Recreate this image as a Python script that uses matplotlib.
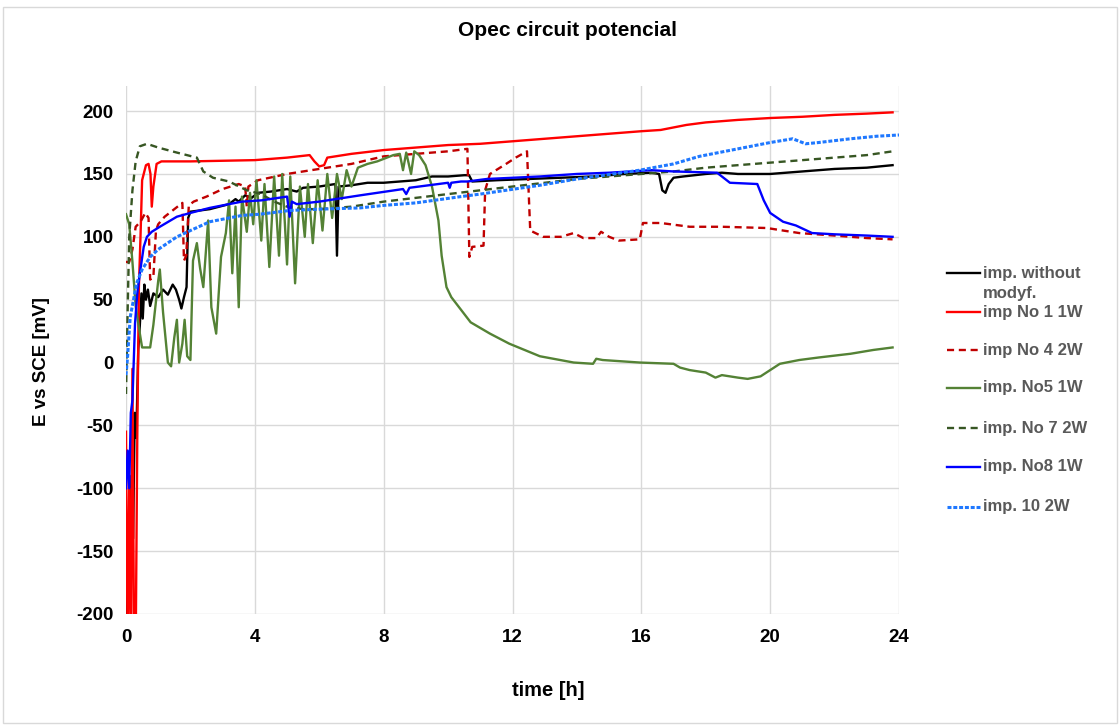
import matplotlib
matplotlib.use("Agg")
import matplotlib.pyplot as plt
from matplotlib.lines import Line2D
from matplotlib.patches import Rectangle

plt.rcParams["axes.unicode_minus"] = False

# ---------------- data ----------------
t_black = [0.00, 0.03, 0.08, 0.12, 0.17, 0.22, 0.27, 0.32, 0.38, 0.43, 0.48, 0.52, 0.57, 0.62, 0.68, 0.75,
           0.85, 1.0, 1.15, 1.3, 1.45, 1.55, 1.65, 1.72, 1.8, 1.88, 1.93, 2.0, 2.3, 2.6, 2.9, 3.2, 3.4, 3.5,
           3.7, 3.9, 4.1, 4.5, 5.0, 5.3, 5.5, 6.0, 6.5, 6.55, 6.6, 7.0, 7.5, 8.0, 8.5, 9.0, 9.5, 10.0, 10.5,
           10.65, 10.75, 11.5, 12.5, 13.5, 14.5, 15.5, 16.3, 16.55, 16.65, 16.75, 16.85, 17.0, 17.3, 18.0,
           18.5, 19.0, 20.0, 21.0, 22.0, 23.0, 23.8]
v_black = [-160, -230, -130, -190, -90, -140, -40, -60, 10, 30, 55, 35, 62, 50, 58, 45,
           55, 52, 58, 54, 62, 58, 50, 43, 52, 60, 115, 120, 121, 122, 124, 126, 130, 128,
           133, 131, 135, 136, 138, 136, 139, 140, 142, 85, 140, 141, 143, 143, 144, 145, 148, 148, 149,
           149, 144, 145, 146, 147, 148, 150, 151, 150, 137, 135, 142, 147, 148, 150,
           151, 150, 150, 152, 154, 155, 157]

t_no1 = [0.0, 0.05, 0.1, 0.15, 0.2, 0.25, 0.3, 0.35, 0.4, 0.45, 0.5, 0.55, 0.62, 0.7, 0.76, 0.8, 0.85,
         0.95, 1.1, 2, 3, 4, 5, 5.7, 5.85, 6.0, 6.15, 6.25, 7, 8, 9, 10, 11, 12, 13, 14, 15, 16, 16.6,
         17.4, 18, 19, 20, 21, 22, 23, 23.8]
v_no1 = [-55, -230, -100, -230, -5, -230, -230, -60, 60, 100, 145, 150, 157, 158, 150, 124, 140,
         158, 160, 160, 160.5, 161, 163, 165, 160, 156, 157, 163, 166, 169, 171, 173, 174, 176, 178, 180,
         182, 184, 185, 189, 191, 193, 194.5, 195.5, 197, 198, 199]

t_no4 = [0, 0.1, 0.2, 0.3, 0.45, 0.6, 0.7, 0.75, 0.85, 0.93, 1.0, 1.2, 1.5, 1.75, 1.8, 1.87, 1.95, 2.1,
         2.5, 3.0, 3.5, 3.7, 3.75, 3.8, 4.1, 5, 6, 7, 8, 9, 10, 10.6, 10.66, 10.75, 11.1, 11.15, 11.3,
         11.8, 12.1, 12.45, 12.55, 12.95, 13.5, 13.9, 14.2, 14.6, 14.75, 15.0, 15.3, 15.95, 16.05, 16.6,
         17.5, 18.5, 19.9, 20.9, 22, 23.0, 23.8]
v_no4 = [80, 80, 90, 108, 112, 119, 115, 66, 68, 105, 110, 116, 122, 127, 81, 85, 125, 128,
         132, 138, 142, 140, 124, 140, 145, 150, 154, 158, 164, 166, 168, 170, 84, 92, 93, 137, 150,
         158, 163, 168, 105, 100, 100, 103, 99, 99, 104, 100, 97, 98, 111, 111,
         108, 108, 107, 103, 101, 99, 98]

t_no5 = [0, 0.1, 0.2, 0.3, 0.43, 0.5, 0.75, 0.85, 1.0, 1.05, 1.15, 1.3, 1.4, 1.5, 1.58, 1.65, 1.75,
         1.82, 1.9, 2.0, 2.08, 2.2, 2.3, 2.4, 2.55, 2.65, 2.8, 2.95, 3.1, 3.2, 3.3, 3.4, 3.5, 3.6, 3.75,
         3.85, 3.95, 4.05, 4.2, 4.3, 4.45, 4.6, 4.75, 4.85, 5.0, 5.1, 5.25, 5.4, 5.55, 5.65, 5.8, 5.95,
         6.1, 6.25, 6.4, 6.55, 6.7, 6.85, 7.0, 7.2, 7.5, 7.8, 8.0, 8.3, 8.5, 8.6, 8.7, 8.85, 8.95, 9.1,
         9.3, 9.5, 9.7, 9.8, 9.95, 10.1, 10.4, 10.7, 11.3, 11.9, 12.85, 13.9, 14.5, 14.6, 14.8, 15.95,
         17.0, 17.2, 17.5, 18.0, 18.3, 18.5, 19.0, 19.3, 19.7, 20.0, 20.3, 20.9, 21.5, 22.5, 23.2, 23.8]
v_no5 = [118, 110, 80, 45, 23, 12, 12, 30, 65, 74, 40, 0, -3, 20, 34, 0, 15,
         34, 5, 2, 81, 95, 75, 60, 113, 44, 23, 84, 103, 129, 71, 124, 44, 132, 104,
         135, 110, 145, 97, 142, 76, 148, 85, 150, 78, 148, 63, 140, 100, 142, 95, 145,
         105, 150, 115, 150, 130, 153, 140, 155, 158, 160, 162, 165, 166, 153, 167, 150, 168, 165,
         157, 140, 113, 85, 60, 52, 42, 32, 23, 15, 5, 0, -1, 3, 2, 0,
         -1, -4, -6, -8, -12, -10, -12, -13, -11, -6, -1, 2, 4, 7, 10, 12]

t_no7 = [0, 0.05, 0.1, 0.2, 0.3, 0.43, 0.65, 1.0, 1.58, 2.2, 2.4, 2.7, 3.2, 3.75, 4.2, 4.6, 5.0, 5.5,
         6.0, 7.0, 8.0, 9.0, 10.0, 11.0, 12.0, 13.0, 14.0, 15.0, 16.0, 17.0, 18.0, 19.0, 20.0, 21.0,
         22.0, 23.0, 23.8]
v_no7 = [-25, 40, 100, 137, 160, 172, 174, 171, 167, 163, 152, 147, 144, 137, 134, 128, 124, 122,
         122, 124, 128, 131, 134, 137, 140, 143, 146, 148, 150, 152, 155, 157, 159, 161,
         163, 165, 168]

t_no8 = [0, 0.05, 0.1, 0.15, 0.2, 0.28, 0.35, 0.43, 0.55, 0.65, 0.8, 1.05, 1.58, 2.0, 2.6, 3.6, 4.2,
         5.0, 5.08, 5.15, 5.3, 6.0, 7.27, 8.6, 8.7, 8.8, 10.0, 10.05, 10.1, 10.4, 10.6, 11.2, 12.85,
         14.0, 15.0, 16.3, 17.0, 18.35, 18.75, 19.6, 19.8, 20.0, 20.4, 20.8, 21.3, 22.0, 23.0, 23.8]
v_no8 = [-100, -70, -100, -40, -30, 31, 55, 71, 92, 100, 104, 108, 116, 119, 123, 128, 129,
         132, 116, 128, 126, 128, 133, 138, 134, 139, 143, 139, 143, 144, 144, 146, 148,
         150, 151, 153, 152, 151, 143, 142, 129, 119, 112, 109, 103, 102, 101, 100]

t_no10 = [0, 0.05, 0.13, 0.33, 0.5, 0.75, 1.0, 1.58, 2.0, 2.6, 3.6, 4.16, 5.1, 6.0, 7.27, 8.0, 9.0,
          10.4, 11.0, 12.85, 14.0, 15.95, 17.0, 17.8, 19.0, 20.0, 20.7, 20.9, 21.1, 21.5, 22.5, 23.3,
          24.0]
v_no10 = [-10, 5, 36, 63, 74, 84, 90, 100, 105, 112, 117, 118, 121, 122, 123, 125, 127,
          132, 134, 141, 146, 153, 158, 164, 170, 175, 178, 176, 174, 175, 178, 180,
          181]

labels = ["imp. without\nmodyf.", "imp No 1 1W", "imp No 4 2W", "imp. No5 1W",
          "imp. No 7 2W", "imp. No8 1W", "imp. 10 2W"]
x_ticks = [0, 4, 8, 12, 16, 20, 24]
y_ticks = [-200, -150, -100, -50, 0, 50, 100, 150, 200]

# ---------------- figure ----------------
fig = plt.figure(figsize=(11.2, 7.26), dpi=100)
fig.patch.set_facecolor("white")
fig.add_artist(Rectangle((0.003, 0.004), 0.994, 0.986, transform=fig.transFigure,
                         fill=False, edgecolor="#d9d9d9", linewidth=1.0))

ax = fig.add_axes([0.1125, 0.1543, 0.6902, 0.7273])

series = [
    (t_black, v_black, "#000000", "-", 1.7),
    (t_no1, v_no1, "#ff0000", "-", 1.7),
    (t_no4, v_no4, "#c00000", (0, (3, 2)), 1.7),
    (t_no5, v_no5, "#548235", "-", 1.7),
    (t_no7, v_no7, "#375623", (0, (3, 2)), 1.7),
    (t_no8, v_no8, "#0000ff", "-", 1.7),
    (t_no10, v_no10, "#1f78ff", (0, (1.3, 0.6)), 2.2),
]
for t, v, c, ls, lw in series:
    ax.plot(t, v, color=c, linestyle=ls, linewidth=lw, solid_joinstyle="round")

ax.set_xlim(0, 24)
ax.set_ylim(-200, 220)
ax.set_xticks(x_ticks)
ax.set_yticks(y_ticks)
ax.grid(True, color="#d9d9d9", linewidth=1.0)
ax.set_axisbelow(True)
for s in ax.spines.values():
    s.set_visible(False)
ax.tick_params(axis="x", length=0, pad=11)
ax.tick_params(axis="y", length=0, pad=9)
for lab in ax.get_xticklabels() + ax.get_yticklabels():
    lab.set_fontfamily("Liberation Sans")
    lab.set_fontweight("bold")
    lab.set_fontsize(13.5)
    lab.set_color("#000000")

fig.text(548 / 1120, 1 - 690 / 726, "time [h]", ha="center", va="center",
         fontsize=14.5, fontweight="bold", family="Liberation Sans")
fig.text(42 / 1120, 1 - 362 / 726, "E vs SCE [mV]", ha="center", va="center", rotation=90,
         fontsize=13.5, fontweight="bold", family="Liberation Sans")

fig.text(567 / 1120, 1 - 31 / 726, "Opec circuit potencial", ha="center", va="center",
         fontsize=15, fontweight="bold", family="Liberation Sans")

# legend (manual placement)
leg_y = [273, 312, 350, 388, 428, 467, 507]
for (t, v, c, ls, lw), lab, yy in zip(series, labels, leg_y):
    yf = 1 - yy / 726
    fig.add_artist(Line2D([947 / 1120, 980 / 1120], [yf, yf], transform=fig.transFigure,
                          color=c, linestyle=ls, linewidth=lw))
    if "\n" in lab:
        fig.text(983 / 1120, yf + 7 / 726, lab, ha="left", va="top",
                 fontsize=12, fontweight="bold", family="Liberation Sans", color="#595959",
                 linespacing=1.45)
    else:
        fig.text(983 / 1120, yf, lab, ha="left", va="center",
                 fontsize=12, fontweight="bold", family="Liberation Sans", color="#595959")

fig.savefig("out.png", dpi=100, facecolor="white")
